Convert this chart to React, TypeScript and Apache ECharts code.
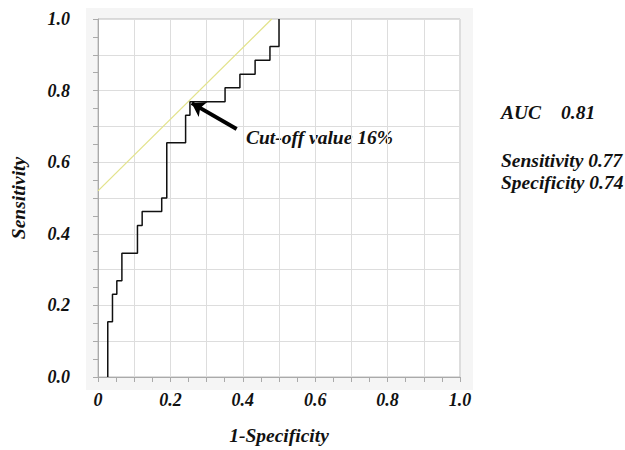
import React, { useEffect, useRef } from "react";
import * as echarts from "echarts";

// ROC staircase vertices (1-Specificity, Sensitivity)
const rocFpr = [0.027, 0.027, 0.04, 0.04, 0.052, 0.052, 0.066, 0.066, 0.109, 0.109, 0.122, 0.122, 0.176, 0.176, 0.19, 0.19, 0.242, 0.242, 0.254, 0.254, 0.351, 0.351, 0.392, 0.392, 0.434, 0.434, 0.475, 0.475, 0.5, 0.5];
const rocTpr = [0, 0.154, 0.154, 0.231, 0.231, 0.269, 0.269, 0.346, 0.346, 0.423, 0.423, 0.462, 0.462, 0.5, 0.5, 0.654, 0.654, 0.731, 0.731, 0.769, 0.769, 0.808, 0.808, 0.846, 0.846, 0.885, 0.885, 0.923, 0.923, 1.0];
// tangent line at cut-off
const tangentX = [0, 0.48];
const tangentY = [0.52, 1.0];
// arrow: tail -> head
const arrowX = [0.383, 0.259];
const arrowY = [0.693, 0.765];
const xTicks = ["0", "0.2", "0.4", "0.6", "0.8", "1.0"];
const yTicks = ["0.0", "0.2", "0.4", "0.6", "0.8", "1.0"];
const cutoffLabel = "Cut-off value 16%";
const statNames = ["AUC", "Sensitivity 0.77", "Specificity 0.74"];
const aucValue = "0.81";

const FONT = "'Liberation Serif', 'Times New Roman', serif";

export default function App() {
  const ref = useRef<HTMLDivElement>(null);
  useEffect(() => {
    if (!ref.current) return;
    const chart = echarts.init(ref.current, null, { renderer: "svg" });
    const txt = {
      fontFamily: FONT,
      fontWeight: "bold",
      fontStyle: "italic",
      fontSize: 18,
      color: "#111",
    };
    const big = `italic bold 19.5px ${FONT}`;
    const fmt = (arr: string[]) => (v: number) => {
      const k = Math.round(v * 10);
      return k % 2 === 0 ? arr[k / 2] : "";
    };
    chart.setOption({
      animation: false,
      backgroundColor: "#fff",
      grid: {
        left: 98,
        right: 165,
        top: 19,
        bottom: 70,
        show: true,
        backgroundColor: "#fff",
        borderColor: "#bbb",
        borderWidth: 1,
      },
      xAxis: {
        type: "value",
        min: 0,
        max: 1,
        interval: 0.1,
        name: "1-Specificity",
        nameLocation: "middle",
        nameGap: 48,
        nameTextStyle: { ...txt, fontSize: 19.5 },
        axisLine: { lineStyle: { color: "#aaa" } },
        axisTick: { show: true, length: 5, lineStyle: { color: "#aaa" } },
        minorTick: { show: true, splitNumber: 2, length: 5, lineStyle: { color: "#aaa" } },
        splitLine: { show: true, lineStyle: { color: "#ddd", width: 1 } },
        axisLabel: { ...txt, margin: 14, formatter: fmt(xTicks) },
      },
      yAxis: {
        type: "value",
        min: 0,
        max: 1,
        interval: 0.1,
        name: "Sensitivity",
        nameLocation: "middle",
        nameGap: 70,
        nameTextStyle: { ...txt, fontSize: 19.5 },
        axisLine: { lineStyle: { color: "#aaa" } },
        axisTick: { show: true, length: 5, lineStyle: { color: "#aaa" } },
        minorTick: { show: true, splitNumber: 2, length: 5, lineStyle: { color: "#aaa" } },
        splitLine: { show: true, lineStyle: { color: "#ddd", width: 1 } },
        axisLabel: { ...txt, margin: 28, formatter: fmt(yTicks) },
      },
      series: [
        {
          type: "line",
          data: tangentX.map((x, i) => [x, tangentY[i]]),
          symbol: "none",
          lineStyle: { color: "#e3e38c", width: 1.3 },
          z: 2,
        },
        {
          type: "line",
          data: rocFpr.map((x, i) => [x, rocTpr[i]]),
          symbol: "none",
          lineStyle: { color: "#111", width: 1.5 },
          z: 3,
        },
        {
          type: "lines",
          coordinateSystem: "cartesian2d",
          data: [{ coords: arrowX.map((x, i) => [x, arrowY[i]]) }],
          symbol: ["none", "arrow"],
          symbolSize: 13,
          lineStyle: { color: "#000", width: 4, opacity: 1 },
          z: 4,
        },
      ],
      graphic: [
        {
          type: "rect",
          z: -10,
          shape: { x: 86, y: 8, width: 387, height: 382 },
          style: { fill: "#f5f5f5" },
        },
        {
          type: "text",
          x: 246,
          y: 137,
          style: { text: cutoffLabel, font: big, fill: "#111", verticalAlign: "middle" },
        },
        {
          type: "text",
          x: 501,
          y: 112,
          style: { text: statNames[0], font: big, fill: "#111", verticalAlign: "middle" },
        },
        {
          type: "text",
          x: 561,
          y: 112,
          style: { text: aucValue, font: big, fill: "#111", verticalAlign: "middle" },
        },
        {
          type: "text",
          x: 501,
          y: 160,
          style: { text: statNames[1], font: big, fill: "#111", verticalAlign: "middle" },
        },
        {
          type: "text",
          x: 501,
          y: 182,
          style: { text: statNames[2], font: big, fill: "#111", verticalAlign: "middle" },
        },
      ],
    });
    return () => chart.dispose();
  }, []);
  return (
    <div
      ref={ref}
      style={{ position: "fixed", left: 0, top: 0, width: 625, height: 450 }}
    />
  );
}
